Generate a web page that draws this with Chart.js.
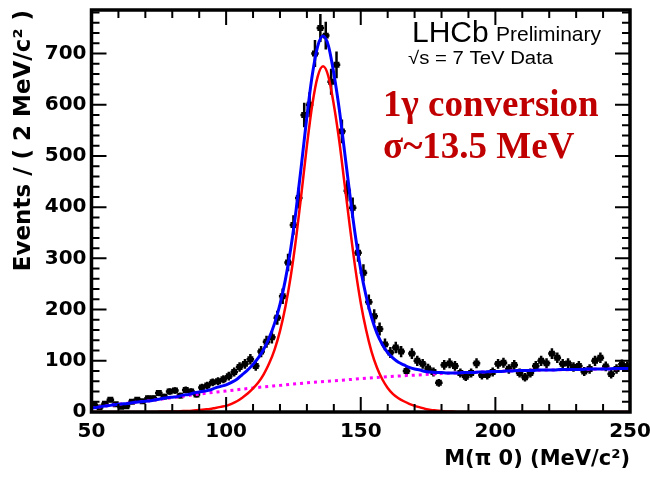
<!DOCTYPE html>
<html><head><meta charset="utf-8">
<script src="https://cdn.jsdelivr.net/npm/chart.js@4/dist/chart.umd.min.js"></script>
<style>html,body{margin:0;padding:0;background:#fff}#wrap{width:650px;height:480px}</style>
</head><body><div id="wrap"><canvas id="c" width="650" height="480"></canvas></div>
<script>
// ---- data ----
const binCenters = [51,53,55,57,59,61,63,65,67,69,71,73,75,77,79,81,83,85,87,89,
  91,93,95,97,99,101,103,105,107,109,111,113,115,117,119,121,123,125,127,129,
  131,133,135,137,139,141,143,145,147,149,151,153,155,157,159,161,163,165,167,169,
  171,173,175,177,179,181,183,185,187,189,191,193,195,197,199,201,203,205,207,209,
  211,213,215,217,219,221,223,225,227,229,231,233,235,237,239,241,243,245,247,249];
const counts = [14,9,16,24,15,10,11,20,24,21,
  27,27,37,30,40,42,32,43,40,34,
  48,52,58,60,64,70,78,88,94,103,
  90,118,137,146,184,226,292,365,418,580,
  600,700,750,735,645,678,548,432,399,311,
  272,215,187,162,132,116,126,118,80,114,
  100,94,85,78,57,92,95,90,76,69,
  76,95,72,72,78,94,96,84,92,76,
  68,76,90,100,95,114,106,94,95,88,
  90,79,84,100,106,89,74,84,93,89];
const curveX = [50,52,54,56,58,60,62,64,66,68,70,72,74,76,78,80,82,84,86,88,
  90,92,94,96,98,100,102,104,106,108,110,112,114,116,118,120,122,124,126,128,
  130,132,134,136,138,140,142,144,146,148,150,152,154,156,158,160,162,164,166,168,
  170,172,174,176,178,180,182,184,186,188,190,192,194,196,198,200,202,204,206,208,
  210,212,214,216,218,220,222,224,226,228,230,232,234,236,238,240,242,244,246,248,250];
const signalFit = [0,0,0,0,0,0,0,0,0,0,0,0,0,1,1,1,1,2,2,3,
  4,5,6,8,10,12,16,21,28,36,46,58,74,95,122,158,205,265,340,428,
  520,600,655,675,655,600,530,445,360,280,213,160,118,87,64,47,35,27,21,16,
  12,9,6,4,3,2,1,1,0,0,0,0,0,0,0,0,0,0,0,0,
  0,0,0,0,0,0,0,0,0,0,0,0,0,0,0,0,0,0,0,0,0];
const totalFit = [8,9,11,12,14,15,16,17,19,20,21,22,24,26,28,29,30,33,34,37,
  39,41,43,47,50,53,58,64,73,82,93,106,123,145,173,210,258,319,395,484,
  577,658,714,734,715,661,592,508,423,344,278,226,185,154,132,116,105,97,92,87,
  84,82,79,78,77,77,76,76,76,77,77,77,78,78,79,79,79,80,80,81,
  81,81,81,82,82,82,82,83,83,83,83,83,84,84,84,84,84,85,85,85,85];
const bgX = [50,60,70,80,90,100,110,120,130,140,150,160,170,180,190,200,210,220,230,240,250];
const bgFit = [8,15,21,28,35,41,47,52,57,61,65,69,72,75,77,79,81,82,83,84,85];
const xTickValues = [50,100,150,200,250];
const yTickValues = [0,100,200,300,400,500,600,700];

const pts = (xs, ys) => xs.map((x, i) => ({x: x, y: ys[i]}));

const rootPlugin = {
  id: 'rootStyle',
  beforeDatasetDraw(chart, args) {
    if (args.index !== 0) return;
    const ctx = chart.ctx, a = chart.chartArea, xs = chart.scales.x, ys = chart.scales.y;
    ctx.save();
    ctx.beginPath(); ctx.rect(a.left, a.top, a.right - a.left, a.bottom - a.top); ctx.clip();
    ctx.strokeStyle = '#000'; ctx.lineWidth = 2.5;
    binCenters.forEach((c, i) => {
      const v = counts[i], e = Math.sqrt(v);
      const px = xs.getPixelForValue(c), py = ys.getPixelForValue(v);
      ctx.beginPath();
      ctx.moveTo(px, ys.getPixelForValue(v - e)); ctx.lineTo(px, ys.getPixelForValue(v + e));
      ctx.moveTo(xs.getPixelForValue(c - 1.4), py); ctx.lineTo(xs.getPixelForValue(c + 1.4), py);
      ctx.stroke();
    });
    ctx.restore();
  },
  afterDraw(chart) {
    const ctx = chart.ctx, a = chart.chartArea, xs = chart.scales.x, ys = chart.scales.y;
    ctx.save();
    ctx.strokeStyle = '#000'; ctx.lineWidth = 2;
    ctx.beginPath();
    for (let v = 50; v <= 250; v += 10) {
      const p = xs.getPixelForValue(v);
      const L = (v % 50 === 0) ? 15 : 8;
      ctx.moveTo(p, a.bottom); ctx.lineTo(p, a.bottom - L);
      ctx.moveTo(p, a.top); ctx.lineTo(p, a.top + L);
    }
    for (let v = 0; v <= 780; v += 20) {
      const p = ys.getPixelForValue(v);
      const L = (v % 100 === 0) ? 15 : 8;
      ctx.moveTo(a.left, p); ctx.lineTo(a.left + L, p);
      ctx.moveTo(a.right, p); ctx.lineTo(a.right - L, p);
    }
    ctx.stroke();
    ctx.lineWidth = 3.5;
    ctx.strokeRect(a.left, a.top, a.right - a.left, a.bottom - a.top);

    const txt = (s, x, y, font, color, sx) => {
      ctx.save(); ctx.font = font; ctx.fillStyle = color; ctx.textAlign = 'left'; ctx.textBaseline = 'alphabetic';
      ctx.translate(x, y); ctx.scale(sx || 1, 1); ctx.fillText(s, 0, 0); ctx.restore();
    };
    txt('LHCb', 412, 42, '30px "Liberation Sans"', '#000', 1.0);
    txt('Preliminary', 496, 41, '21px "Liberation Sans"', '#000', 1.0);
    txt('\u221As = 7 TeV Data', 408, 64, '18px "Liberation Sans"', '#000', 1.13);
    txt('1\u03B3 conversion', 383, 116, 'bold 37px "Liberation Serif"', '#c00000', 1.0);
    txt('\u03C3~13.5 MeV', 383, 158, 'bold 37px "Liberation Serif"', '#c00000', 1.0);
    ctx.restore();
  }
};

new Chart(document.getElementById('c'), {
  type: 'scatter',
  data: {
    datasets: [
      { label: 'data', data: pts(binCenters, counts), showLine: false,
        pointStyle: 'rect', pointRadius: 4.2, pointBackgroundColor: '#000', pointBorderColor: '#000',
        pointBorderWidth: 0, order: 4 },
      { label: 'background', data: pts(bgX, bgFit), showLine: true, pointRadius: 0,
        borderColor: '#ff00ff', borderWidth: 3, borderDash: [3, 4], cubicInterpolationMode: 'monotone', order: 3 },
      { label: 'signal', data: pts(curveX, signalFit), showLine: true, pointRadius: 0,
        borderColor: '#ff0000', borderWidth: 2.5, cubicInterpolationMode: 'monotone', order: 2 },
      { label: 'total', data: pts(curveX, totalFit), showLine: true, pointRadius: 0,
        borderColor: '#0000ff', borderWidth: 3, cubicInterpolationMode: 'monotone', order: 1 }
    ]
  },
  options: {
    responsive: false, animation: false, devicePixelRatio: 1,
    layout: { padding: { left: 0, right: 20, top: 10, bottom: 0 } },
    plugins: { legend: { display: false }, tooltip: { enabled: false } },
    scales: {
      x: {
        type: 'linear', min: 50, max: 250,
        afterFit(s) { s.height = 68; s.paddingLeft = 0; s.paddingRight = 0; },
        afterBuildTicks(s) { s.ticks = xTickValues.map(v => ({value: v})); },
        grid: { display: false, drawTicks: false }, border: { display: false },
        ticks: { padding: 8, color: '#000', font: { family: 'DejaVu Sans', weight: 'bold', size: 20 }, maxRotation: 0 },
        title: { display: true, text: 'M(\u03C0 0) (MeV/c\u00B2)', align: 'end', color: '#000',
          font: { family: 'DejaVu Sans', weight: 'bold', size: 21 }, padding: { top: 0, bottom: 8 } }
      },
      y: {
        type: 'linear', min: 0, max: 785,
        afterFit(s) { s.width = 91.5; s.paddingTop = 0; s.paddingBottom = 0; },
        afterBuildTicks(s) { s.ticks = yTickValues.map(v => ({value: v})); },
        grid: { display: false, drawTicks: false }, border: { display: false },
        ticks: { padding: 5, color: '#000', font: { family: 'DejaVu Sans', weight: 'bold', size: 20 } },
        title: { display: true, text: 'Events / ( 2 MeV/c\u00B2 )', align: 'end', color: '#000',
          font: { family: 'DejaVu Sans', weight: 'bold', size: 23 }, padding: { top: 10, bottom: 0 } }
      }
    }
  },
  plugins: [rootPlugin]
});
</script></body></html>
